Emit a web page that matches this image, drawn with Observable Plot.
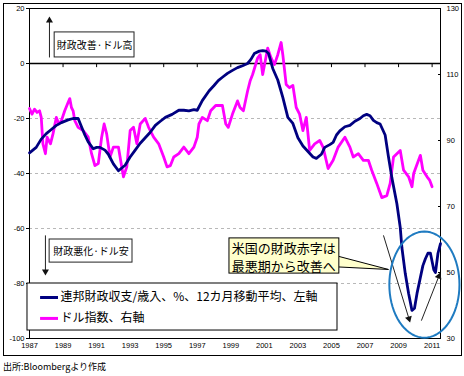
<!DOCTYPE html>
<html><head><meta charset="utf-8">
<script src="https://cdn.jsdelivr.net/npm/d3@7"></script>
<script src="https://cdn.jsdelivr.net/npm/@observablehq/plot@0.6"></script>
<style>
body{margin:0;background:#fff;}
#wrap{position:relative;width:464px;height:376px;background:#fff;}
#border{position:absolute;left:3px;top:3px;width:457px;height:351px;border:1px solid #000;pointer-events:none;}
#cap{position:absolute;left:3px;top:360px;font-size:9px;font-family:"Noto Sans CJK JP";color:#000;}
</style></head>
<body><div id="wrap"><div id="chart"></div><div id="border"></div><div id="cap">出所:Bloombergより作成</div></div>
<script>
// ---- data ----
const fiscalYears = [1987.0,1987.4,1987.7,1988.0,1988.3,1988.6,1988.9,1989.3,1989.6,1989.9,1990.1,1990.3,1990.5,1990.8,1991.0,1991.2,1991.5,1991.7,1992.0,1992.3,1992.5,1992.7,1993.0,1993.3,1993.6,1993.9,1994.2,1994.5,1994.8,1995.1,1995.5,1995.9,1996.2,1996.5,1996.8,1997.0,1997.3,1997.7,1998.0,1998.25,1998.5,1998.8,1999.1,1999.4,1999.7,2000.0,2000.2,2000.4,2000.7,2000.9,2001.1,2001.25,2001.5,2001.8,2002.1,2002.4,2002.7,2003.0,2003.3,2003.6,2003.9,2004.1,2004.4,2004.6,2004.9,2005.1,2005.3,2005.5,2005.8,2006.1,2006.4,2006.7,2006.9,2007.1,2007.3,2007.5,2007.7,2007.9,2008.2,2008.4,2008.6,2008.9,2009.1,2009.2,2009.4,2009.6,2009.8,2009.95,2010.1,2010.3,2010.45,2010.6,2010.75,2010.9,2011.0,2011.1,2011.2,2011.35,2011.5];
const fiscalValues = [-32.5,-30.5,-27.5,-25.5,-24,-22.5,-21.5,-20.5,-20,-20,-23,-26,-28.5,-31,-30.5,-30.5,-31.5,-33,-36.5,-39,-38,-37,-34,-31.5,-29,-27,-25,-22.5,-21,-19.6,-18.5,-17,-17,-17.2,-16.8,-17,-13.5,-10,-8,-6.2,-5,-3.6,-2.5,-1.5,-0.8,0,1.5,3.6,4.5,4.7,4.5,3.6,-1.8,-6,-12.3,-19.6,-21.8,-27,-30,-32,-34,-34.5,-33,-30.5,-29.5,-28.7,-26,-24.5,-23,-22.5,-21,-20,-19,-18.5,-19,-20.7,-21.5,-22,-26,-34,-41.5,-51,-59.6,-67,-76.4,-83.6,-89.8,-89,-83.6,-77.8,-73.5,-71,-69,-69,-72,-75,-76,-69,-65.5];

const dollarYears = [1987.0,1987.15,1987.3,1987.45,1987.6,1987.7,1987.8,1987.95,1988.05,1988.25,1988.4,1988.6,1988.75,1988.9,1989.1,1989.3,1989.4,1989.5,1989.6,1989.7,1989.9,1990.2,1990.5,1990.7,1990.9,1991.1,1991.3,1991.45,1991.6,1991.8,1992.0,1992.3,1992.5,1992.6,1992.8,1993.0,1993.2,1993.4,1993.6,1993.9,1994.1,1994.4,1994.7,1995.0,1995.2,1995.4,1995.6,1995.9,1996.2,1996.5,1996.8,1997.0,1997.1,1997.3,1997.6,1997.8,1998.1,1998.5,1998.7,1998.85,1999.1,1999.4,1999.55,1999.75,2000.0,2000.15,2000.3,2000.6,2000.75,2000.9,2001.05,2001.2,2001.4,2001.6,2001.8,2002.0,2002.1,2002.3,2002.5,2002.7,2002.9,2003.1,2003.3,2003.5,2003.7,2004.0,2004.3,2004.5,2004.8,2005.1,2005.4,2005.8,2006.1,2006.3,2006.6,2006.9,2007.2,2007.4,2007.7,2008.0,2008.3,2008.5,2008.7,2008.9,2009.1,2009.3,2009.6,2009.8,2009.9,2010.3,2010.45,2010.7,2010.85,2011.0];
const dollarValues = [99.7,98,99.5,98.5,99,97,89,86,91,89,92,97,95,96,99,101.5,102.7,100,99,96,94,93,91,86,82.4,83,91,95,92,85,88,88,82,79,82,93,94,89,95,96.7,94,91,89,85,82,82.4,85,86,88,86,88,91,95,97,96,99,100.6,100.6,95,94,98,102,100,99,105,108,110,115,116,110,114,118,115,113,116,119.7,116,107,106,106.7,100,98,93,97,87,89,90,88,81.5,84,88,91,88,85,86,84,84,81,77,72.7,73.3,77,85,86,87,81,79,76,80,85.5,81,79,78,76];

const xTickYears = [1987,1989,1991,1993,1995,1997,1999,2001,2003,2005,2007,2009,2011];
const leftTicks = [20,0,-20,-40,-60,-80,-100];
const gridValues = [-20,-40,-60,-80];
const rightTicks = [30,50,70,90,110,130];

const seriesNames = ["連邦財政収支/歳入、%、12カ月移動平均、左軸","ドル指数、右軸"];
const upLabel = "財政改善·ドル高";
const downLabel = "財政悪化·ドル安";
const calloutLines = ["米国の財政赤字は","最悪期から改善へ"];

// annotation anchors, in data units (year, left-axis value)
const upBox = {x1:1988.5, x2:1993.26, y1:2.2, y2:11.3, tx:1990.88, ty:6.6};
const upArrow = {x1:1988.19, x2:1988.19, y1:2.2, y2:15.6, rot:0};
const downBox = {x1:1988.2, x2:1993.14, y1:-72.4, y2:-64, tx:1990.67, ty:-68.3};
const downArrow = {x1:1987.95, x2:1987.95, y1:-62.5, y2:-75.6, rot:180};
const calloutBox = {x1:1998.92, x2:2005.47, y1:-76.4, y2:-63.6, tx:1999.05, ty1:-67.3, ty2:-73.8};
const calloutPointer = [[2005.47,-70.2],[2008.4,-74.9],[2005.47,-74.0]];
const ringCenter = {x:2010.54, y:-80.4, rx:2.09, ry:19.3};
const arrowsIn = [
  {x1:2008.1, y1:-62.5, x2:2009.62, y2:-92.8, rot:163},
  {x1:2010.36, y1:-93.5, x2:2011.4, y2:-77.4, rot:21}
];
const legendBox = {x1:1986.88, x2:2005.36, y1:-97.1, y2:-80};
const legendRows = [{x1:1987.66, x2:1988.73, y:-85.1, tx:1988.85}, {x1:1987.66, x2:1988.73, y:-92.7, tx:1988.85}];

// ---- build ----
const toLeft = r => -100 + (r - 30) * 1.2;
const fiscal = fiscalYears.map((x,i)=>({x, y:fiscalValues[i]}));
const dollar = dollarYears.map((x,i)=>({x, y:toLeft(dollarValues[i])}));
const ring = d3.range(0, 73).map(i => {
  const t = i/72*2*Math.PI;
  return {x: ringCenter.x + ringCenter.rx*Math.cos(t), y: ringCenter.y + ringCenter.ry*Math.sin(t)};
});
const navy = "#000080", magenta = "#ff00ff";
const jp = "'Noto Sans CJK JP'";
const allArrows = [upArrow, downArrow, ...arrowsIn];

const chart = Plot.plot({
  width: 464, height: 358,
  marginLeft: 29, marginRight: 24, marginTop: 8, marginBottom: 20,
  style: {fontFamily: "'Liberation Sans', Arial, sans-serif", fontSize: "7.5px", background: "transparent", color: "#000"},
  x: {domain: [1987, 2011.5]},
  y: {domain: [-100, 20]},
  marks: [
    Plot.ruleY(gridValues, {stroke: "#b8b8b8", strokeDasharray: "3,3"}),
    Plot.ruleY([0], {stroke: "#000", strokeWidth: 1.5}),
    Plot.ruleX(xTickYears.slice(1), {x: d=>d, y1: 0, y2: -1.5, stroke: "#000"}),
    Plot.frame({stroke: "#000"}),
    Plot.axisY({anchor: "left", ticks: leftTicks, tickSize: 3, tickPadding: 2, label: null, tickFormat: d=>d, fontSize: 7.5}),
    Plot.axisY({anchor: "right", ticks: rightTicks.map(toLeft), tickSize: 0, tickPadding: 6, label: null, tickFormat: (d,i)=>rightTicks[i], fontSize: 7.5}),
    Plot.axisY({anchor: "right", ticks: rightTicks.slice(1,-1).map(toLeft), tickSize: 3, dx: -3, text: null, label: null}),
    Plot.axisX({anchor: "bottom", ticks: xTickYears, tickSize: 0, tickPadding: 4, label: null, tickFormat: d=>String(d), fontSize: 7.5}),
    Plot.line(dollar, {x: "x", y: "y", stroke: magenta, strokeWidth: 2.8}),
    Plot.line(fiscal, {x: "x", y: "y", stroke: navy, strokeWidth: 2.8}),
    // boxes
    Plot.rect([upBox], {x1: "x1", x2: "x2", y1: "y1", y2: "y2", fill: "#fff", stroke: "#222"}),
    Plot.text([upBox], {x: "tx", y: "ty", text: d=>upLabel, fontFamily: jp, fontSize: 10, fill: "#000"}),
    Plot.rect([downBox], {x1: "x1", x2: "x2", y1: "y1", y2: "y2", fill: "#fff", stroke: "#222"}),
    Plot.text([downBox], {x: "tx", y: "ty", text: d=>downLabel, fontFamily: jp, fontSize: 10, fill: "#000"}),
    // callout
    Plot.line(calloutPointer, {x: d=>d[0], y: d=>d[1], fill: "#ffffcc", stroke: "#000", strokeWidth: 1}),
    Plot.rect([calloutBox], {x1: "x1", x2: "x2", y1: "y1", y2: "y2", fill: "#ffffcc", stroke: "#000"}),
    Plot.text([calloutBox], {x: "tx", y: "ty1", text: d=>calloutLines[0], textAnchor: "start", fontFamily: jp, fontSize: 13, fill: "#000"}),
    Plot.text([calloutBox], {x: "tx", y: "ty2", text: d=>calloutLines[1], textAnchor: "start", fontFamily: jp, fontSize: 13, fill: "#000"}),
    // arrows with filled heads
    Plot.link(allArrows, {x1: "x1", y1: "y1", x2: "x2", y2: "y2", stroke: "#222", strokeWidth: 1}),
    Plot.dot(allArrows, {x: "x2", y: "y2", symbol: "triangle", r: 2.6, rotate: "rot", fill: "#111", stroke: "none"}),
    Plot.line(ring, {x: "x", y: "y", stroke: "#1f7bc1", strokeWidth: 2}),
    // legend
    Plot.rect([legendBox], {x1: "x1", x2: "x2", y1: "y1", y2: "y2", fill: "#fff", stroke: "#000"}),
    Plot.ruleY(legendRows, {x1: "x1", x2: "x2", y: "y", stroke: (d,i)=>i===0?navy:magenta, strokeWidth: 3}),
    Plot.text(legendRows, {x: "tx", y: "y", text: (d,i)=>seriesNames[i], textAnchor: "start", fontFamily: jp, fontSize: 12, fill: "#000"})
  ]
});
document.getElementById("chart").appendChild(chart);
</script>
</body></html>
